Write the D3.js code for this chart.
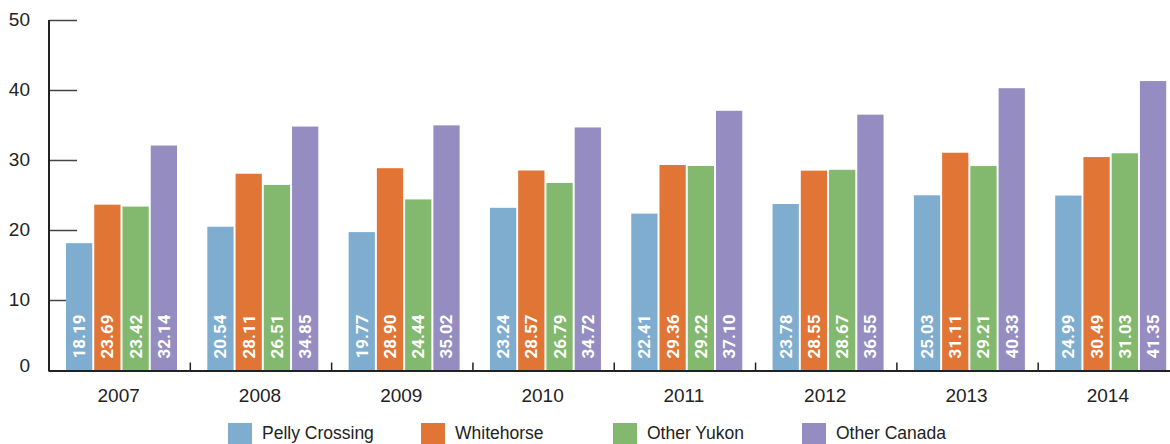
<!DOCTYPE html>
<html>
<head>
<meta charset="utf-8">
<script src="https://cdn.jsdelivr.net/npm/d3@7"></script>
<style>
  html, body { margin: 0; padding: 0; background: #fff; overflow: hidden; }
  svg { display: block; }
</style>
</head>
<body>
<svg id="chart" width="1170" height="444"></svg>
<script>
// Yearly values per region
const years = ["2007", "2008", "2009", "2010", "2011", "2012", "2013", "2014"];
const seriesNames = ["Pelly Crossing", "Whitehorse", "Other Yukon", "Other Canada"];
const pellyCrossing = [18.19, 20.54, 19.77, 23.24, 22.41, 23.78, 25.03, 24.99];
const whitehorse   = [23.69, 28.11, 28.90, 28.57, 29.36, 28.55, 31.11, 30.49];
const otherYukon   = [23.42, 26.51, 24.44, 26.79, 29.22, 28.67, 29.21, 31.03];
const otherCanada  = [32.14, 34.85, 35.02, 34.72, 37.10, 36.55, 40.33, 41.35];
const yTicks = [0, 10, 20, 30, 40, 50];
const colors = ["#7eadd0", "#e07535", "#82b96e", "#958dc1"];

const seriesValues = [pellyCrossing, whitehorse, otherYukon, otherCanada];
const rows = years.map((yr, i) => ({
  year: yr,
  values: seriesNames.map((name, s) => ({ name, idx: s, value: seriesValues[s][i] }))
}));

const svg = d3.select("#chart");
const axisLeft = 49, axisRight = 1179.5;
const y0 = 370.5, yTop = 20.5;

const x0 = d3.scaleBand().domain(years).range([axisLeft, axisRight]).padding(0);
const x1 = d3.scaleBand().domain(seriesNames).range([17, 128]).paddingInner(0.07);
const y = d3.scaleLinear().domain([0, 50]).range([y0, yTop]);
const color = d3.scaleOrdinal().domain(seriesNames).range(colors);

// Y axis tick marks (drawn under the bars)
const yAxis = svg.append("g");
yAxis.selectAll("line.tick")
  .data(yTicks.filter(t => t > 0)).join("line")
  .attr("class", "tick")
  .attr("x1", axisLeft).attr("x2", 77)
  .attr("y1", d => y(d)).attr("y2", d => y(d))
  .attr("stroke", "#444").attr("stroke-width", 1.5);
yAxis.append("line")
  .attr("x1", axisLeft).attr("x2", axisLeft)
  .attr("y1", yTop - 0.5).attr("y2", y0 + 1)
  .attr("stroke", "#222").attr("stroke-width", 2);
yAxis.selectAll("text")
  .data(yTicks).join("text")
  .attr("x", 30)
  .attr("y", d => d === 0 ? y(d) - 5 : y(d) - 1)
  .attr("text-anchor", "end")
  .attr("dominant-baseline", "central")
  .attr("fill", "#222")
  .attr("font-family", "'Liberation Sans', Arial, sans-serif")
  .attr("font-size", 19)
  .text(d => d);

// Bars
const groups = svg.append("g").selectAll("g")
  .data(rows).join("g")
  .attr("transform", d => `translate(${x0(d.year)},0)`);

groups.selectAll("rect")
  .data(d => d.values).join("rect")
  .attr("x", d => x1(d.name))
  .attr("y", d => y(d.value))
  .attr("width", x1.bandwidth())
  .attr("height", d => y0 - y(d.value))
  .attr("fill", d => color(d.name));

// Rotated value labels inside each bar
groups.selectAll("text")
  .data(d => d.values).join("text")
  .attr("transform", d => `translate(${x1(d.name) + x1.bandwidth() / 2 + 6},${y0 - 12}) rotate(-90)`)
  .attr("text-anchor", "start")
  .attr("fill", "#fff")
  .attr("font-family", "Roboto, 'Liberation Sans', sans-serif")
  .attr("font-weight", 700)
  .attr("font-size", 17)
  .text(d => d.value.toFixed(2));

// X axis
const xAxis = svg.append("g");
xAxis.append("line")
  .attr("x1", axisLeft).attr("x2", axisRight)
  .attr("y1", y0 + 0.5).attr("y2", y0 + 0.5)
  .attr("stroke", "#222").attr("stroke-width", 2);
xAxis.selectAll("line.tick")
  .data(years.slice(1)).join("line")
  .attr("class", "tick")
  .attr("x1", d => x0(d)).attr("x2", d => x0(d))
  .attr("y1", y0 - 8).attr("y2", y0)
  .attr("stroke", "#222").attr("stroke-width", 1.5);
xAxis.selectAll("text")
  .data(years).join("text")
  .attr("x", d => x0(d) + x0.bandwidth() / 2 - 1)
  .attr("y", 402)
  .attr("text-anchor", "middle")
  .attr("fill", "#222")
  .attr("font-family", "'Liberation Sans', Arial, sans-serif")
  .attr("font-size", 19)
  .text(d => d);

// Legend
const legendX = [228, 421, 613, 802];
const legend = svg.append("g").selectAll("g")
  .data(seriesNames).join("g")
  .attr("transform", (d, i) => `translate(${legendX[i]},423)`);
legend.append("rect")
  .attr("width", 24).attr("height", 22)
  .attr("fill", d => color(d));
legend.append("text")
  .attr("x", 34).attr("y", 16)
  .attr("fill", "#222")
  .attr("font-family", "'Liberation Sans', Arial, sans-serif")
  .attr("font-size", 17.5)
  .text(d => d);
</script>
</body>
</html>
